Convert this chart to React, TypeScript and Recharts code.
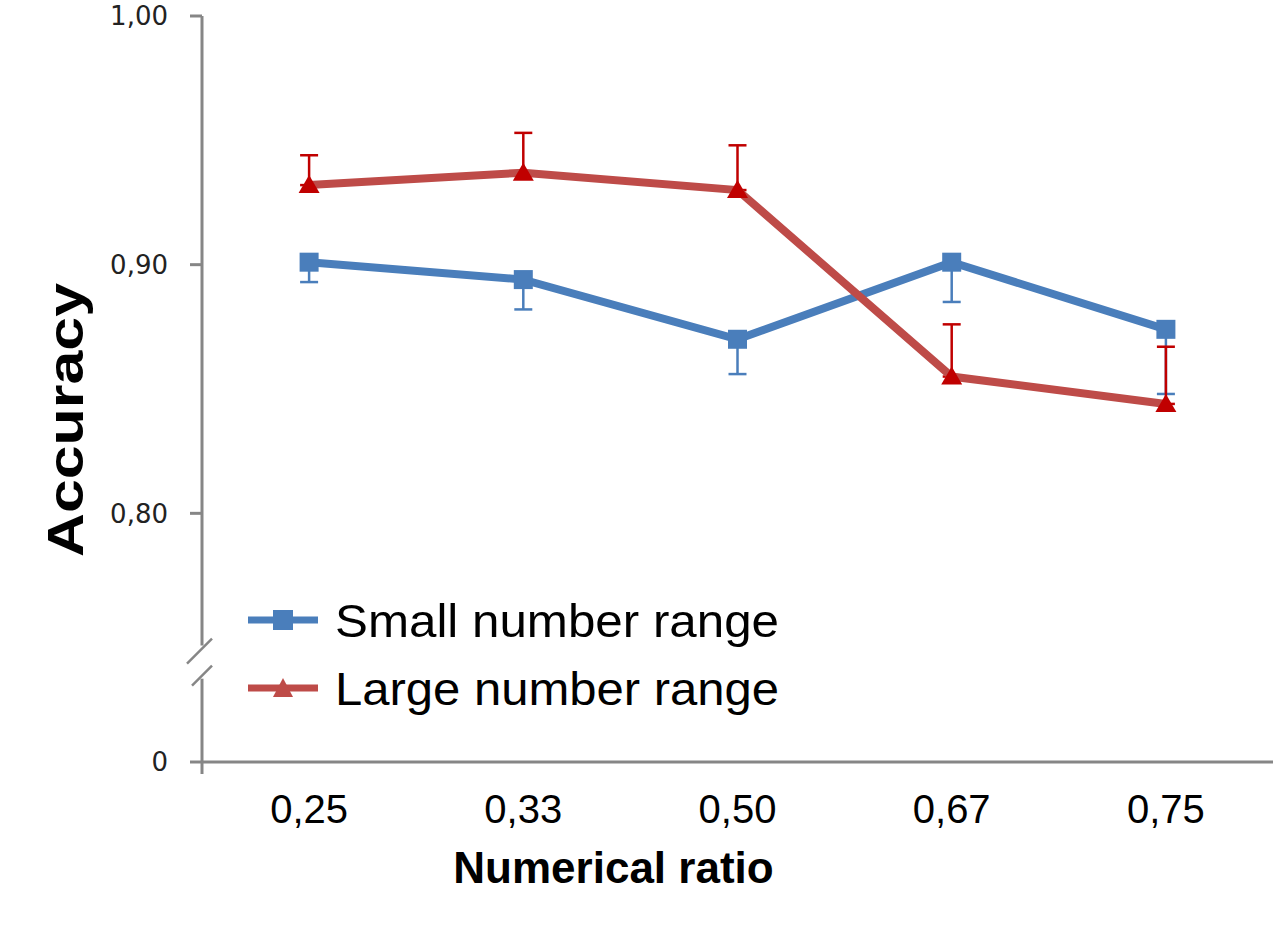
import React from "react";
import {
  LineChart,
  Line,
  XAxis,
  YAxis,
  ErrorBar,
  Legend,
  Customized,
} from "recharts";

// values
const ratios = ["0,25", "0,33", "0,50", "0,67", "0,75"];
const smallRange = [0.901, 0.894, 0.87, 0.901, 0.874];
const smallRangeErr = [0.008, 0.012, 0.014, 0.016, 0.026]; // drawn downward only
const largeRange = [0.932, 0.937, 0.93, 0.855, 0.844];
const largeRangeErr = [0.012, 0.016, 0.018, 0.021, 0.023]; // drawn upward only
const yTicks = [0.7, 0.8, 0.9, 1.0];
const legendOrder = ["small", "large"];

const data = ratios.map((r, i) => ({
  ratio: r,
  small: smallRange[i],
  smallErr: [smallRangeErr[i], 0],
  large: largeRange[i],
  largeErr: [0, largeRangeErr[i]],
}));

const W = 1280;
const H = 926;
const MARGIN = { top: 16, right: 7, bottom: 104, left: 20 };
const Y_AXIS_W = 182;
const X_AXIS_H = 60;
const Y_DOMAIN: [number, number] = [0.7, 1.0];

const AXIS = "#868686";
const BLUE = "#4A7EBB";
const RED_LINE = "#BE4B48";
const RED = "#C00000";
const ARIAL = "'Liberation Sans', Arial, sans-serif";

const plotLeft = MARGIN.left + Y_AXIS_W;
const plotTop = MARGIN.top;
const plotW = W - plotLeft - MARGIN.right;
const plotH = H - MARGIN.top - MARGIN.bottom - X_AXIS_H;
// half a category band on each side, like a band axis
const halfBand = plotW / ratios.length / 2;
const yOf = (v: number) =>
  plotTop + ((Y_DOMAIN[1] - v) / (Y_DOMAIN[1] - Y_DOMAIN[0])) * plotH;

const fmtY = (v: number) => (v <= 0.7 ? "0" : v.toFixed(2).replace(".", ","));

function SquareDot(props: any) {
  const { cx, cy } = props;
  if (cx == null || cy == null) return null;
  return <rect x={cx - 9.5} y={cy - 9.5} width={19} height={19} fill={BLUE} />;
}

function TriangleDot(props: any) {
  const { cx, cy } = props;
  if (cx == null || cy == null) return null;
  return (
    <polygon
      points={`${cx},${cy - 10} ${cx + 10.5},${cy + 8} ${cx - 10.5},${cy + 8}`}
      fill={RED}
    />
  );
}

// broken y axis: line with a gap and two slashes
function AxisBreak() {
  const gapTop = yOf(0.7468);
  const gapBottom = yOf(0.7335);
  const bottom = yOf(0.7) + 12;
  return (
    <g>
      <line x1={plotLeft} y1={plotTop} x2={plotLeft} y2={gapTop} stroke={AXIS} strokeWidth={3} />
      <line x1={plotLeft} y1={gapBottom} x2={plotLeft} y2={bottom} stroke={AXIS} strokeWidth={3} />
      <line x1={plotLeft - 15} y1={gapTop + 18} x2={plotLeft + 10} y2={gapTop - 7} stroke={AXIS} strokeWidth={2.5} />
      <line x1={plotLeft - 10} y1={gapBottom + 7} x2={plotLeft + 10} y2={gapBottom - 13} stroke={AXIS} strokeWidth={2.5} />
    </g>
  );
}

function renderLegend(props: any) {
  const items = [...(props.payload || [])].sort(
    (a: any, b: any) => legendOrder.indexOf(a.dataKey) - legendOrder.indexOf(b.dataKey)
  );
  return (
    <svg width={560} height={140}>
      {items.map((item: any, i: number) => {
        const cy = 35 + i * 68;
        const isSmall = item.dataKey === "small";
        return (
          <g key={item.value}>
            <line x1={8} y1={cy} x2={78} y2={cy} stroke={item.color} strokeWidth={7} />
            {isSmall ? (
              <rect x={33} y={cy - 10} width={20} height={20} fill={item.color} />
            ) : (
              <polygon
                points={`43,${cy - 10} 53,${cy + 9} 33,${cy + 9}`}
                fill={item.color}
              />
            )}
            <text
              x={95}
              y={cy + 17}
              fontSize={47}
              fontFamily={ARIAL}
              fill="#000"
              textLength={444}
              lengthAdjust="spacingAndGlyphs"
            >
              {item.value}
            </text>
          </g>
        );
      })}
    </svg>
  );
}

export default function App() {
  return (
    <div style={{ position: "absolute", left: 0, top: 0, background: "#fff" }}>
      <LineChart width={W} height={H} data={data} margin={MARGIN}>
        <XAxis
          dataKey="ratio"
          height={X_AXIS_H}
          padding={{ left: halfBand, right: halfBand }}
          axisLine={{ stroke: AXIS, strokeWidth: 3 }}
          tickLine={false}
          tickMargin={27}
          tick={{ fontSize: 40, fill: "#000", fontFamily: ARIAL }}
          label={{
            content: (p: any) => {
              const vb = p.viewBox;
              return (
                <text
                  x={vb.x + vb.width / 2 - 124}
                  y={vb.y + 121}
                  textAnchor="middle"
                  fontSize={44}
                  fontWeight="bold"
                  fontFamily={ARIAL}
                  fill="#000"
                >
                  Numerical ratio
                </text>
              );
            },
          }}
        />
        <YAxis
          type="number"
          domain={Y_DOMAIN}
          ticks={yTicks}
          width={Y_AXIS_W}
          axisLine={false}
          tickLine={{ stroke: AXIS, strokeWidth: 3 }}
          tickSize={12}
          tickMargin={22}
          tickFormatter={fmtY}
          tick={{ fontSize: 26, fill: "#222", fontFamily: "'DejaVu Sans', Verdana, sans-serif" }}
          label={{
            content: (p: any) => {
              const vb = p.viewBox;
              const cx = vb.x + 46;
              const cy = vb.y + vb.height / 2 + 31;
              return (
                <text
                  x={cx}
                  y={cy}
                  transform={`rotate(-90 ${cx} ${cy})`}
                  textAnchor="middle"
                  dominantBaseline="central"
                  fontSize={50}
                  fontWeight="bold"
                  fontFamily={ARIAL}
                  fill="#000"
                  textLength={274}
                  lengthAdjust="spacingAndGlyphs"
                >
                  Accuracy
                </text>
              );
            },
          }}
        />
        <Customized component={<AxisBreak />} />
        <Legend
          layout="vertical"
          align="center"
          verticalAlign="middle"
          content={renderLegend}
          wrapperStyle={{ left: 240, top: 585, width: 560, height: 140 }}
        />
        <Line
          name="Small number range"
          dataKey="small"
          stroke={BLUE}
          strokeWidth={8}
          dot={<SquareDot />}
          activeDot={false}
          isAnimationActive={false}
        >
          <ErrorBar dataKey="smallErr" stroke={BLUE} strokeWidth={2.5} width={9} />
        </Line>
        <Line
          name="Large number range"
          dataKey="large"
          stroke={RED_LINE}
          strokeWidth={8}
          dot={<TriangleDot />}
          activeDot={false}
          isAnimationActive={false}
        >
          <ErrorBar dataKey="largeErr" stroke={RED} strokeWidth={2.5} width={9} />
        </Line>
      </LineChart>
    </div>
  );
}
